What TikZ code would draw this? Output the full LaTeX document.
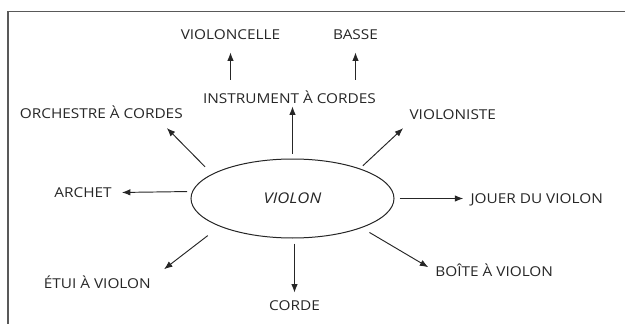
\documentclass[tikz,border=0pt]{standalone}
\usepackage{fontspec}
\usepackage{tikz}
\usetikzlibrary{shapes.geometric,arrows.meta}
\newfontfamily\lblfont[FakeStretch=1.13]{Open Sans}
\def\lblsize{\fontsize{13.6}{15}\selectfont}

\begin{document}
\begin{tikzpicture}[x=1pt,y=-1pt,
  term/.style={font=\lblfont\lblsize, text=black!85, inner sep=0pt, text height=9.5pt, text depth=0pt},
  arr/.style={-{Latex[length=8.5pt,width=6.5pt]}, line width=0.95pt, draw=black!85}]
\useasboundingbox (0,0) rectangle (625,324);
% frame
\draw[line width=1.1pt, black!65] (8,324) -- (8,11.5) -- (625,11.5);
% centre
\node[ellipse, draw, line width=1pt, black!85, minimum width=203pt, minimum height=79pt, inner sep=0pt, font=\lblfont\fontsize{14.8}{16}\selectfont\itshape, text=black!85] (violon) at (292.5,198.5) {VIOLON};
% terms
\node[term] (vcello) at (230.5,35) {VIOLONCELLE};
\node[term] (basse) at (355.5,35) {BASSE};
\node[term] (instr) at (289.5,98.5) {INSTRUMENT À CORDES};
\node[term] (orch) at (101.3,114) {ORCHESTRE À CORDES};
\node[term] (vniste) at (452.8,114.5) {VIOLONISTE};
\node[term] (archet) at (83,193) {ARCHET};
\node[term] (jouer) at (536.7,198.5) {JOUER DU VIOLON};
\node[term] (etui) at (97.3,284) {ÉTUI À VIOLON};
\node[term] (corde) at (294.5,305.5) {CORDE};
\node[term] (boite) at (494.2,271.3) {BOÎTE À VIOLON};
% arrows
\draw[arr, shorten <=14pt, shorten >=12.5pt] (instr.north -| vcello.south) -- (vcello.south);
\draw[arr, shorten <=14pt, shorten >=12.5pt] (instr.north -| basse.south) -- (basse.south);
\draw[arr, shorten <=5pt, shorten >=3pt] (violon.north) -- (violon.north |- instr.south);
\draw[arr, shorten <=10pt, shorten >=12.7pt] (violon.163) -- (orch.-5.3);
\draw[arr, shorten <=4pt, shorten >=12.8pt] (violon.24.8) -- (vniste.187.9);
\draw[arr, shorten <=5pt, shorten >=10pt] (violon.176.6) -- (archet);
\draw[arr, shorten <=5pt, shorten >=7pt] (violon.east) -- (jouer);
\draw[arr, shorten <=15pt, shorten >=16.5pt] (violon.-159.7) -- (etui.5.6);
\draw[arr, shorten <=5pt, shorten >=8pt] (corde.north |- violon.south) -- (corde.north);
\draw[arr, shorten <=9pt, shorten >=8pt] (violon.-23) -- (boite.west);
\end{tikzpicture}
\end{document}
